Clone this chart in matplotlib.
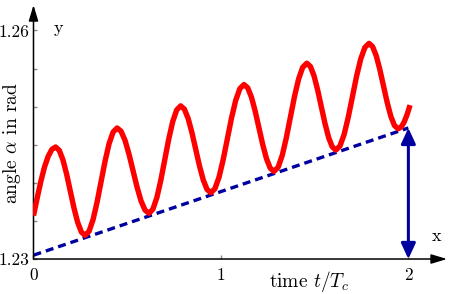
import matplotlib
matplotlib.use('Agg')
import matplotlib.pyplot as plt

plt.rcParams['font.family'] = 'cmr10'
plt.rcParams['mathtext.fontset'] = 'cm'

# angle alpha(t) (peaks / troughs plus points between)
t_vals = [0.0, 0.0197, 0.0393, 0.059, 0.0787, 0.0983, 0.118,
          0.1376, 0.1573, 0.1769, 0.1965, 0.2161, 0.2358, 0.2554, 0.275,
          0.2964, 0.3178, 0.3391, 0.3605, 0.3819, 0.4033, 0.4246, 0.446,
          0.4673, 0.4885, 0.5098, 0.531, 0.5523, 0.5735, 0.5948, 0.616,
          0.6371, 0.6583, 0.6794, 0.7005, 0.7216, 0.7428, 0.7639, 0.785,
          0.8051, 0.8253, 0.8454, 0.8655, 0.8856, 0.9058, 0.9259, 0.946,
          0.9681, 0.9903, 1.0124, 1.0345, 1.0566, 1.0788, 1.1009, 1.123,
          1.143, 1.163, 1.183, 1.203, 1.223, 1.243, 1.263, 1.283,
          1.3049, 1.3268, 1.3486, 1.3705, 1.3924, 1.4143, 1.4361, 1.458,
          1.4774, 1.4968, 1.5161, 1.5355, 1.5549, 1.5743, 1.5936, 1.613,
          1.6351, 1.6573, 1.6794, 1.7015, 1.7236, 1.7458, 1.7679, 1.79,
          1.8094, 1.8288, 1.8481, 1.8675, 1.8869, 1.9063, 1.9256, 1.945,
          1.961, 1.977, 1.993, 2.009]
alpha_vals = [1.2357, 1.2380, 1.2402, 1.2421, 1.2435, 1.2444, 1.2447,
              1.24426, 1.2430, 1.24112, 1.2389, 1.23668, 1.2348, 1.23354, 1.2331,
              1.23364, 1.23517, 1.23745, 1.24015, 1.24285, 1.24514, 1.24666, 1.2472,
              1.24677, 1.24556, 1.24374, 1.2416, 1.23946, 1.23764, 1.23643, 1.2360,
              1.23654, 1.23807, 1.24035, 1.24305, 1.24575, 1.24804, 1.24956, 1.2501,
              1.24967, 1.24843, 1.24658, 1.2444, 1.24222, 1.24037, 1.23913, 1.2387,
              1.23924, 1.24078, 1.24308, 1.2458, 1.24852, 1.25082, 1.25236, 1.2529,
              1.25247, 1.25123, 1.24938, 1.2472, 1.24502, 1.24317, 1.24193, 1.2415,
              1.24204, 1.24358, 1.24588, 1.2486, 1.25132, 1.25362, 1.25516, 1.2557,
              1.25527, 1.25403, 1.25218, 1.2500, 1.24782, 1.24597, 1.24473, 1.2443,
              1.24483, 1.24635, 1.24862, 1.2513, 1.25398, 1.25625, 1.25777, 1.2583,
              1.25787, 1.25666, 1.25484, 1.2527, 1.25056, 1.24874, 1.24753, 1.2471,
              1.2473, 1.24795, 1.24894, 1.2502]

# dashed lower envelope
env_t = [0.0, 2.0]
env_alpha = [1.2305, 1.2472]

x_ticks = [0, 1, 2]
x_ticklabels = ['0', '1', '2']
y_ticks = [1.23, 1.26]
y_ticklabels = ['1.23', '1.26']
y_minor = [1.235, 1.24, 1.245, 1.25, 1.255]

red = '#ff0000'
navy = '#0000a0'

fig = plt.figure(figsize=(4.52, 2.94), dpi=100)
ax = fig.add_axes([0.0741, 0.119, 0.915, 0.864])
ax.set_xlim(0, 2.2065)
ax.set_ylim(1.23, 1.26334)

for s in ax.spines.values():
    s.set_visible(False)

# axes with arrow heads
arrow_kw = dict(arrowstyle='-|>,head_length=0.8,head_width=0.24', color='black',
                lw=1.1, mutation_scale=12, shrinkA=0, shrinkB=0)
ax.annotate('', xy=(1, 0), xytext=(0, 0), xycoords='axes fraction', arrowprops=arrow_kw)
ax.annotate('', xy=(0, 1), xytext=(0, 0), xycoords='axes fraction', arrowprops=arrow_kw)

ax.plot(env_t, env_alpha, color=navy, lw=2.4, dashes=(2.4, 1.5), zorder=2)
ax.plot(t_vals, alpha_vals, color=red, lw=3.9, solid_capstyle='butt',
        solid_joinstyle='round', zorder=3)

# vertical double arrow at t = 2
ax.annotate('', xy=(env_t[1], env_alpha[1]), xytext=(env_t[1], 1.23),
            arrowprops=dict(arrowstyle='<|-|>,head_length=0.78,head_width=0.36',
                            color=navy, lw=2.2, mutation_scale=12,
                            shrinkA=0, shrinkB=0), zorder=4)

ax.set_xticks(x_ticks)
ax.set_xticklabels(x_ticklabels)
ax.set_yticks(y_ticks)
ax.set_yticklabels(y_ticklabels)
ax.set_yticks(y_minor, minor=True)
ax.tick_params(axis='both', which='both', direction='in', length=3, width=1,
               color='#888888', labelsize=12.5)
ax.tick_params(axis='x', pad=6)
ax.tick_params(axis='y', pad=3)

fig.text(309 / 452, 1 - 282 / 294, r'time $t/T_c$', fontsize=14, ha='center', va='center')
fig.text(12 / 452, 1 - 143 / 294, r'angle $\alpha$ in rad', fontsize=14,
         rotation=90, ha='center', va='center')
fig.text(58 / 452, 1 - 28 / 294, 'y', fontsize=13, ha='center', va='center')
fig.text(437 / 452, 1 - 236 / 294, 'x', fontsize=13, ha='center', va='center')

fig.savefig('out.png', dpi=100)
